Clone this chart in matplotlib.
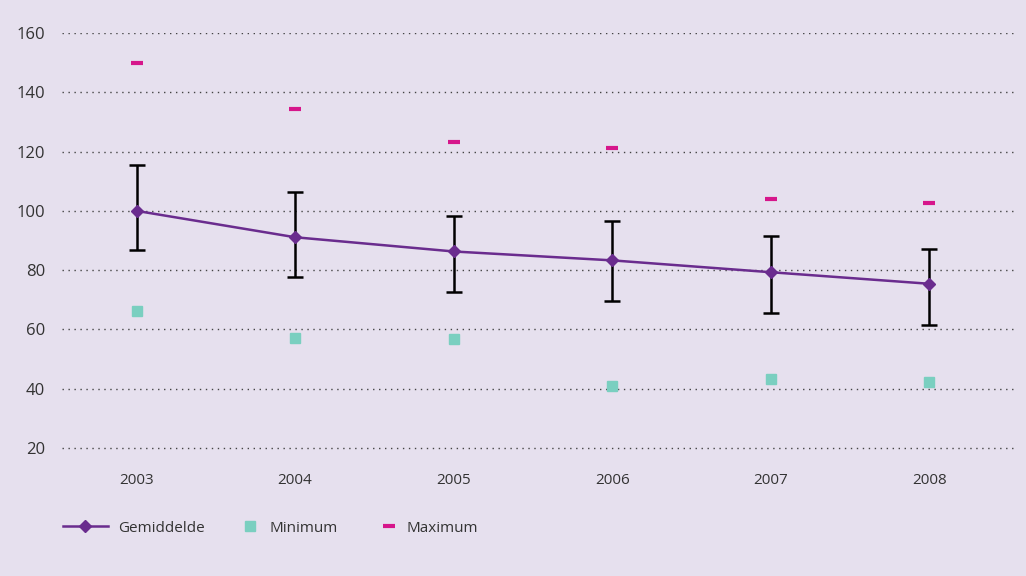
import matplotlib.pyplot as plt
import numpy as np

# data
years = ['2003', '2004', '2005', '2006', '2007', '2008']
gemiddelde = [100.0, 91.1, 86.3, 83.3, 79.3, 75.4]
err_low = [86.8, 77.6, 72.6, 69.5, 65.5, 61.5]
err_high = [115.5, 106.5, 98.4, 96.7, 91.4, 87.2]
minimum = [66.3, 57.1, 56.8, 40.9, 43.2, 42.3]
maximum = [149.9, 134.4, 123.3, 121.3, 104.1, 102.6]
yticks = [20, 40, 60, 80, 100, 120, 140, 160]

bg = '#E6E0EE'
purple = '#6A2C8E'
teal = '#7ACFC0'
magenta = '#D6168B'
txt = '#333333'

plt.rcParams['font.family'] = ['Open Sans', 'DejaVu Sans']

fig = plt.figure(figsize=(10.26, 5.76), dpi=100, facecolor=bg)
# axes spans a bit below the 20 gridline so it isn't clipped
ax = fig.add_axes([62/1026, 1 - 452/576, (1015 - 62)/1026, (452 - 33)/576])
ax.set_facecolor(bg)

x = np.arange(len(years))
g = np.array(gemiddelde)
yerr = [g - np.array(err_low), np.array(err_high) - g]

ax.errorbar(x, g, yerr=yerr, fmt='none', ecolor='black', elinewidth=1.8,
            capsize=5.5, capthick=1.8, zorder=3, clip_on=False)
l1, = ax.plot(x, g, color=purple, lw=1.8, marker='D', ms=6.5, zorder=4,
              label='Gemiddelde', clip_on=False)
l2, = ax.plot(x, minimum, ls='none', marker='s', ms=7.5, color=teal, zorder=4,
              label='Minimum', clip_on=False)
l3, = ax.plot(x, maximum, ls='none', marker='_', ms=8, mew=3, color=magenta,
              zorder=4, label='Maximum', clip_on=False)

ax.set_xlim(-0.47, 5.54)
ax.set_ylim(20 - 4/2.975, 160)
ax.set_yticks(yticks)
ax.set_xticks(x)
ax.set_xticklabels(years)
ax.yaxis.grid(True, color='#444444', lw=1.0, ls=(0, (1, 3.3)))
ax.set_axisbelow(True)
for s in ax.spines.values():
    s.set_visible(False)
ax.tick_params(length=0, labelsize=11, colors=txt)
ax.tick_params(axis='y', pad=12, labelsize=12)
ax.tick_params(axis='x', pad=15)

# legend entries placed one by one, like the original
ly = 1 - 528/576
fig.legend(handles=[l1], loc='center left', bbox_to_anchor=(49/1026, ly),
           frameon=False, fontsize=11, labelcolor=txt,
           handlelength=2.95, handletextpad=0.65)
fig.legend(handles=[l2], loc='center left', bbox_to_anchor=(229/1026, ly),
           frameon=False, fontsize=11, labelcolor=txt,
           handlelength=1.0, handletextpad=0.75)
fig.legend(handles=[l3], loc='center left', bbox_to_anchor=(368/1026, ly),
           frameon=False, fontsize=11, labelcolor=txt,
           handlelength=1.0, handletextpad=0.6)

fig.savefig('out.png', dpi=100, facecolor=bg)
